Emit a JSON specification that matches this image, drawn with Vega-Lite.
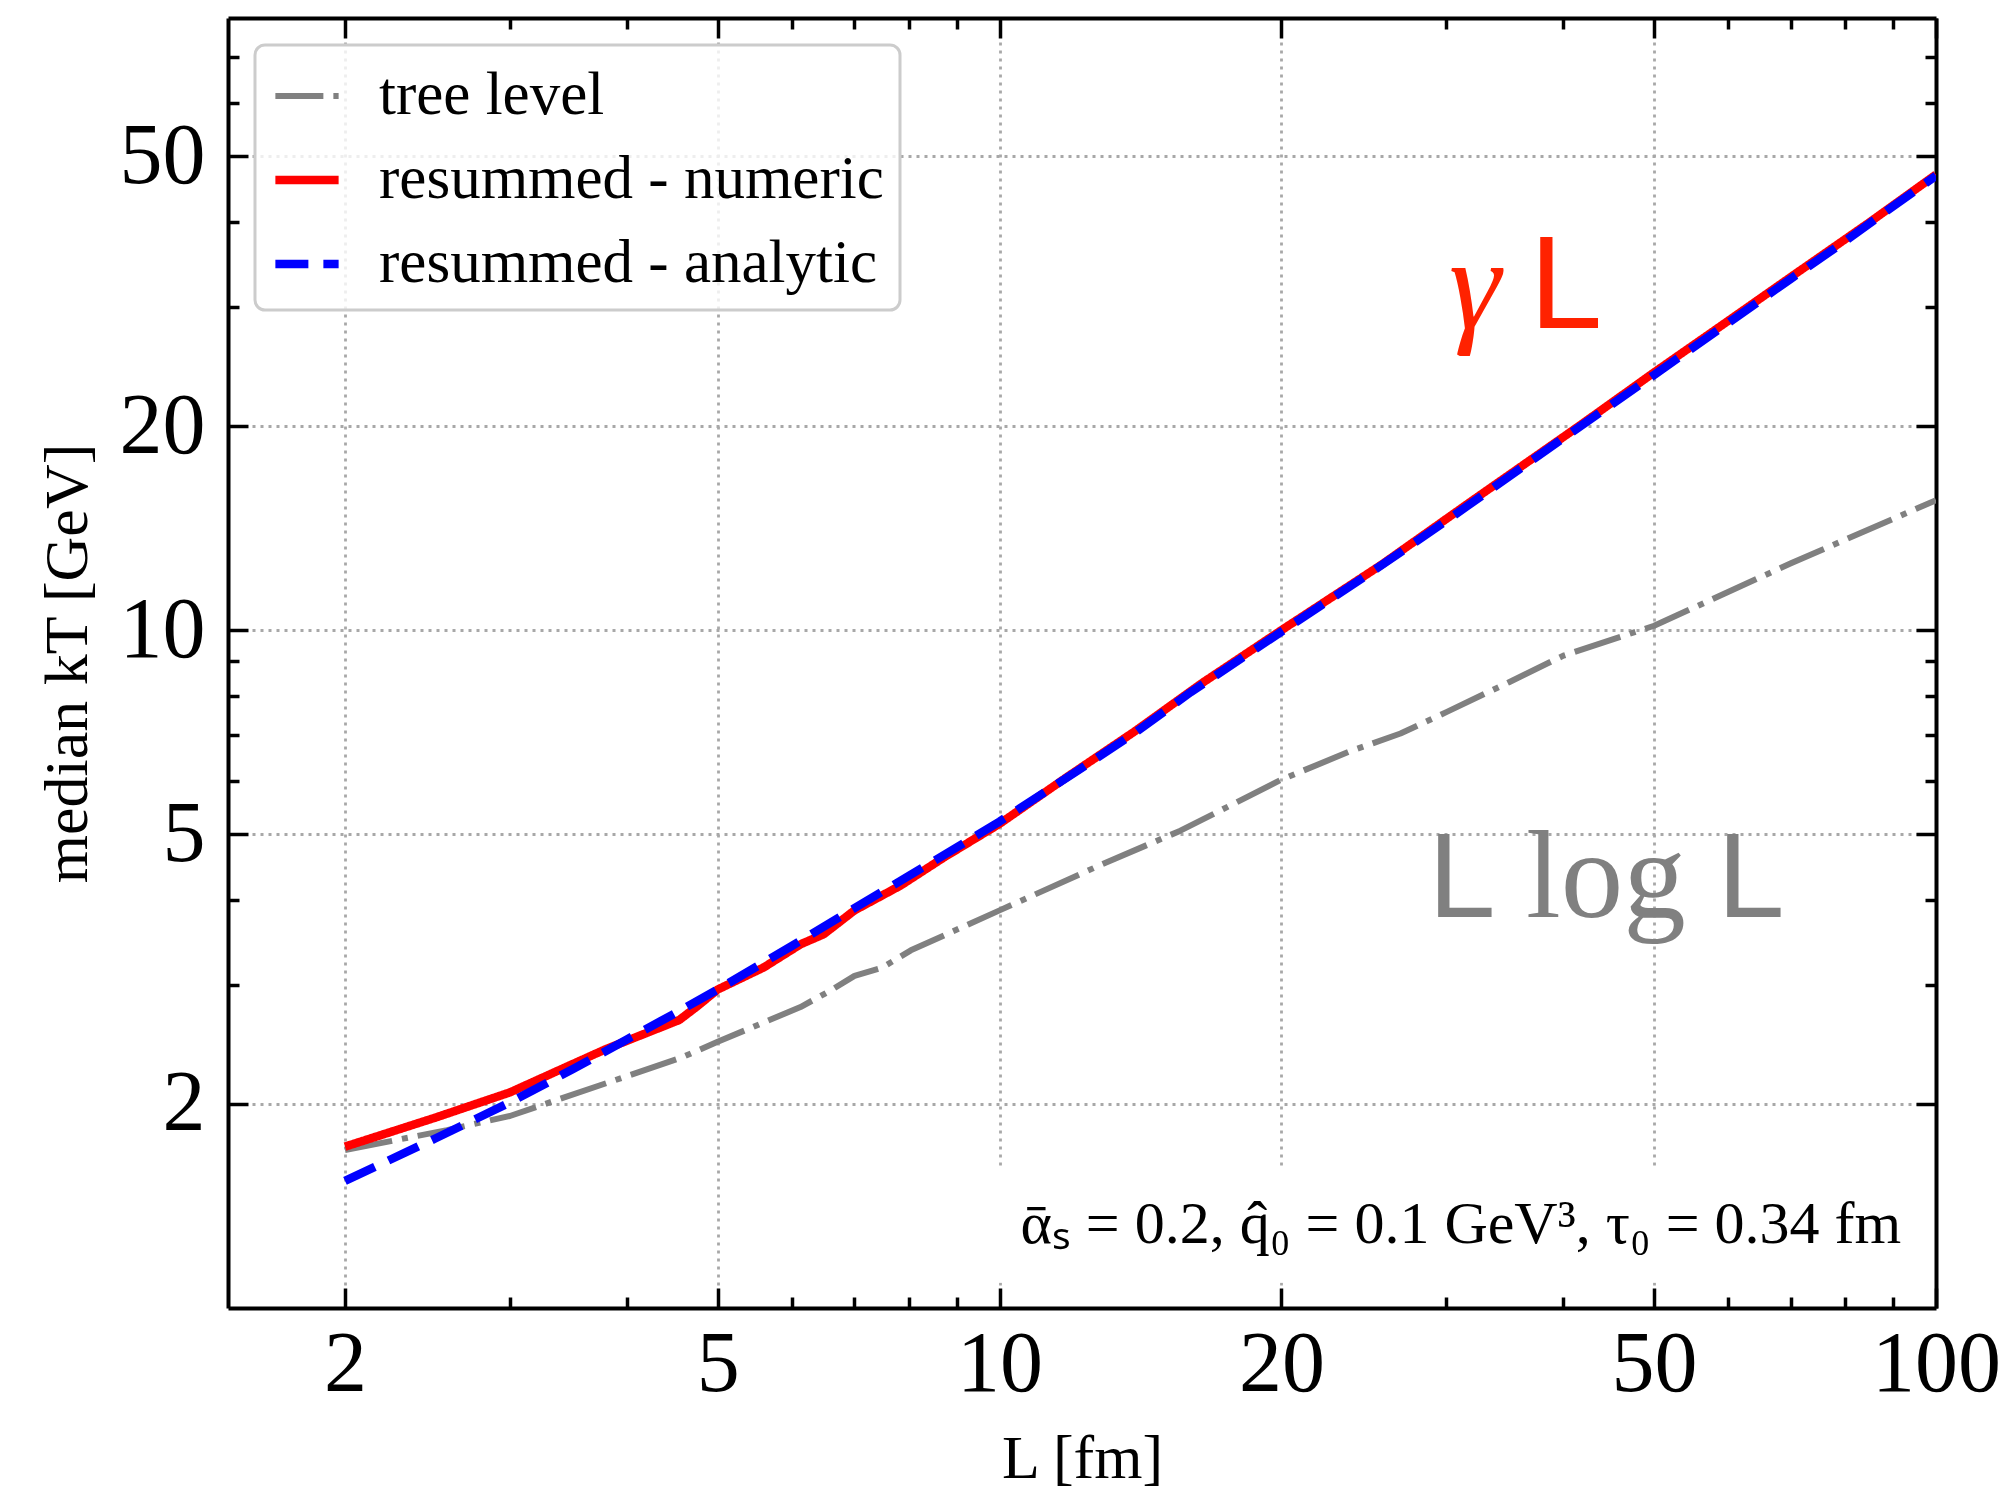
{
  "$schema": "https://vega.github.io/schema/vega-lite/v6.json",
  "width": 1708,
  "height": 1290,
  "autosize": "none",
  "padding": {"left": 228, "top": 18, "right": 73, "bottom": 186},
  "background": "white",
  "config": {
    "view": {"stroke": null},
    "font": "Liberation Serif",
    "legend": {"strokeWidth": 3}
  },
  "resolve": {"axis": {"x": "independent", "y": "independent"}},
  "datasets": {
    "curves": [
      {"L": 2, "kT": 1.71, "series": "tree level"},
      {"L": 2.57, "kT": 1.83, "series": "tree level"},
      {"L": 3, "kT": 1.92, "series": "tree level"},
      {"L": 4.57, "kT": 2.34, "series": "tree level"},
      {"L": 5, "kT": 2.47, "series": "tree level"},
      {"L": 6.13, "kT": 2.78, "series": "tree level"},
      {"L": 6.6, "kT": 2.94, "series": "tree level"},
      {"L": 7.0, "kT": 3.09, "series": "tree level"},
      {"L": 7.5, "kT": 3.18, "series": "tree level"},
      {"L": 8.04, "kT": 3.37, "series": "tree level"},
      {"L": 10, "kT": 3.86, "series": "tree level"},
      {"L": 12.8, "kT": 4.5, "series": "tree level"},
      {"L": 15.6, "kT": 5.06, "series": "tree level"},
      {"L": 20, "kT": 6.02, "series": "tree level"},
      {"L": 23.7, "kT": 6.63, "series": "tree level"},
      {"L": 26.8, "kT": 7.04, "series": "tree level"},
      {"L": 30, "kT": 7.57, "series": "tree level"},
      {"L": 35, "kT": 8.38, "series": "tree level"},
      {"L": 40, "kT": 9.17, "series": "tree level"},
      {"L": 50, "kT": 10.15, "series": "tree level"},
      {"L": 70, "kT": 12.55, "series": "tree level"},
      {"L": 100, "kT": 15.55, "series": "tree level"},
      {"L": 2, "kT": 1.73, "series": "resummed - numeric"},
      {"L": 2.5, "kT": 1.91, "series": "resummed - numeric"},
      {"L": 3, "kT": 2.08, "series": "resummed - numeric"},
      {"L": 3.5, "kT": 2.29, "series": "resummed - numeric"},
      {"L": 3.8, "kT": 2.41, "series": "resummed - numeric"},
      {"L": 4.55, "kT": 2.66, "series": "resummed - numeric"},
      {"L": 4.76, "kT": 2.79, "series": "resummed - numeric"},
      {"L": 5, "kT": 2.95, "series": "resummed - numeric"},
      {"L": 5.6, "kT": 3.18, "series": "resummed - numeric"},
      {"L": 6.13, "kT": 3.44, "series": "resummed - numeric"},
      {"L": 6.49, "kT": 3.56, "series": "resummed - numeric"},
      {"L": 7, "kT": 3.86, "series": "resummed - numeric"},
      {"L": 7.84, "kT": 4.2, "series": "resummed - numeric"},
      {"L": 8.72, "kT": 4.62, "series": "resummed - numeric"},
      {"L": 10, "kT": 5.18, "series": "resummed - numeric"},
      {"L": 11.8, "kT": 6.07, "series": "resummed - numeric"},
      {"L": 13.9, "kT": 7.07, "series": "resummed - numeric"},
      {"L": 16.4, "kT": 8.33, "series": "resummed - numeric"},
      {"L": 20, "kT": 10.0, "series": "resummed - numeric"},
      {"L": 25.6, "kT": 12.5, "series": "resummed - numeric"},
      {"L": 31.7, "kT": 15.4, "series": "resummed - numeric"},
      {"L": 41.5, "kT": 19.97, "series": "resummed - numeric"},
      {"L": 50, "kT": 24.0, "series": "resummed - numeric"},
      {"L": 60, "kT": 28.6, "series": "resummed - numeric"},
      {"L": 70, "kT": 33.2, "series": "resummed - numeric"},
      {"L": 85, "kT": 40.0, "series": "resummed - numeric"},
      {"L": 100, "kT": 47.0, "series": "resummed - numeric"},
      {"L": 2, "kT": 1.54, "series": "resummed - analytic"},
      {"L": 2.5, "kT": 1.78, "series": "resummed - analytic"},
      {"L": 3, "kT": 2.01, "series": "resummed - analytic"},
      {"L": 3.5, "kT": 2.25, "series": "resummed - analytic"},
      {"L": 4, "kT": 2.49, "series": "resummed - analytic"},
      {"L": 4.5, "kT": 2.72, "series": "resummed - analytic"},
      {"L": 5, "kT": 2.95, "series": "resummed - analytic"},
      {"L": 6, "kT": 3.42, "series": "resummed - analytic"},
      {"L": 7, "kT": 3.89, "series": "resummed - analytic"},
      {"L": 8, "kT": 4.34, "series": "resummed - analytic"},
      {"L": 9, "kT": 4.78, "series": "resummed - analytic"},
      {"L": 10, "kT": 5.22, "series": "resummed - analytic"},
      {"L": 12, "kT": 6.15, "series": "resummed - analytic"},
      {"L": 14, "kT": 7.08, "series": "resummed - analytic"},
      {"L": 16, "kT": 8.1, "series": "resummed - analytic"},
      {"L": 20, "kT": 9.95, "series": "resummed - analytic"},
      {"L": 25, "kT": 12.2, "series": "resummed - analytic"},
      {"L": 30, "kT": 14.5, "series": "resummed - analytic"},
      {"L": 40, "kT": 19.2, "series": "resummed - analytic"},
      {"L": 50, "kT": 23.8, "series": "resummed - analytic"},
      {"L": 60, "kT": 28.4, "series": "resummed - analytic"},
      {"L": 70, "kT": 33.0, "series": "resummed - analytic"},
      {"L": 80, "kT": 37.5, "series": "resummed - analytic"},
      {"L": 90, "kT": 42.2, "series": "resummed - analytic"},
      {"L": 100, "kT": 46.8, "series": "resummed - analytic"}
    ]
  },
  "layer": [
    {
      "data": {"name": "curves"},
      "mark": {"type": "line", "strokeCap": "butt", "strokeJoin": "round", "clip": true},
      "encoding": {
        "x": {
          "field": "L", "type": "quantitative",
          "scale": {"type": "log", "domain": [1.5, 100], "nice": false},
          "axis": {
            "orient": "bottom",
            "values": [2, 3, 4, 5, 6, 7, 8, 9, 10, 20, 30, 40, 50, 60, 70, 80, 90, 100],
            "labelExpr": "indexof([2,5,10,20,50,100], datum.value) >= 0 ? format(datum.value, 'd') : ''",
            "tickSize": {"condition": {"test": "indexof([2,5,10,20,50,100], datum.value) >= 0", "value": -20}, "value": -11},
            "tickWidth": 3.5, "tickColor": "black",
            "domainColor": "black", "domainWidth": 4,
            "grid": true, "gridColor": "#a8a8a8", "gridWidth": 2.8, "gridDash": [3, 5],
            "gridOpacity": {"condition": {"test": "indexof([2,5,10,20,50], datum.value) >= 0", "value": 1}, "value": 0},
            "labelFont": "Liberation Serif", "labelFontSize": 86, "labelColor": "black",
            "labelPadding": 34, "labelFlush": false, "labelOverlap": false,
            "title": "L [fm]", "titleFont": "Liberation Serif", "titleFontSize": 62,
            "titleFontWeight": "normal", "titleColor": "black", "titlePadding": 12
          }
        },
        "y": {
          "field": "kT", "type": "quantitative",
          "scale": {"type": "log", "domain": [1, 80], "nice": false},
          "axis": {
            "orient": "left",
            "values": [2, 3, 4, 5, 6, 7, 8, 9, 10, 20, 30, 40, 50, 60, 70],
            "labelExpr": "indexof([2,5,10,20,50], datum.value) >= 0 ? format(datum.value, 'd') : ''",
            "tickSize": {"condition": {"test": "indexof([2,5,10,20,50], datum.value) >= 0", "value": -20}, "value": -11},
            "tickWidth": 3.5, "tickColor": "black",
            "domainColor": "black", "domainWidth": 4,
            "grid": true, "gridColor": "#a8a8a8", "gridWidth": 2.8, "gridDash": [3, 5],
            "gridOpacity": {"condition": {"test": "indexof([2,5,10,20,50], datum.value) >= 0", "value": 1}, "value": 0},
            "labelFont": "Liberation Serif", "labelFontSize": 86, "labelColor": "black",
            "labelPadding": 43, "labelFlush": false, "labelOverlap": false,
            "title": "median kT [GeV]", "titleFont": "Liberation Serif", "titleFontSize": 62,
            "titleFontWeight": "normal", "titleColor": "black", "titlePadding": 20
          }
        },
        "color": {
          "field": "series", "type": "nominal",
          "scale": {"domain": ["tree level", "resummed - numeric", "resummed - analytic"], "range": ["#808080", "#ff0000", "#0000ff"]},
          "legend": {
            "orient": "none", "legendX": 27, "legendY": 27, "title": null,
            "symbolType": "stroke", "symbolSize": 4000,
            "labelFont": "Liberation Serif", "labelFontSize": 61, "labelColor": "black",
            "labelLimit": 0, "labelOffset": 36, "rowPadding": 18, "padding": 16,
            "fillColor": "rgba(255,255,255,0.8)", "strokeColor": "#cccccc", "cornerRadius": 10
          }
        },
        "strokeDash": {
          "field": "series", "type": "nominal",
          "scale": {"type": "ordinal", "domain": ["tree level", "resummed - numeric", "resummed - analytic"], "range": [[48, 10, 6, 10], [1, 0], [33, 15]]}
        },
        "strokeWidth": {
          "field": "series", "type": "nominal",
          "scale": {"type": "ordinal", "domain": ["tree level", "resummed - numeric", "resummed - analytic"], "range": [6, 8.5, 8.5]}
        }
      }
    },
    {
      "data": {"values": [{"L": 9.8, "L2": 96, "kT": 1.6, "kT2": 1.09}]},
      "mark": {"type": "rect", "fill": "white"},
      "encoding": {
        "x": {
          "field": "L", "type": "quantitative",
          "axis": {
            "orient": "top",
            "values": [2, 3, 4, 5, 6, 7, 8, 9, 10, 20, 30, 40, 50, 60, 70, 80, 90, 100],
            "labels": false, "grid": false, "title": null,
            "tickSize": {"condition": {"test": "indexof([2,5,10,20,50,100], datum.value) >= 0", "value": -20}, "value": -11},
            "tickWidth": 3.5, "tickColor": "black",
            "domainColor": "black", "domainWidth": 4
          }
        },
        "x2": {"field": "L2"},
        "y": {
          "field": "kT", "type": "quantitative",
          "axis": {
            "orient": "right",
            "values": [2, 3, 4, 5, 6, 7, 8, 9, 10, 20, 30, 40, 50, 60, 70],
            "labels": false, "grid": false, "title": null,
            "tickSize": {"condition": {"test": "indexof([2,5,10,20,50], datum.value) >= 0", "value": -20}, "value": -11},
            "tickWidth": 3.5, "tickColor": "black",
            "domainColor": "black", "domainWidth": 4
          }
        },
        "y2": {"field": "kT2"}
      }
    },
    {
      "data": {"values": [{"L": 91.8, "kT": 1.245, "text": "ᾱₛ = 0.2, q̂₀ = 0.1 GeV³, τ₀ = 0.34 fm"}]},
      "mark": {"type": "text", "align": "right", "baseline": "alphabetic", "font": "Liberation Serif", "fontSize": 60, "color": "black"},
      "encoding": {
        "x": {"field": "L", "type": "quantitative", "axis": null},
        "y": {"field": "kT", "type": "quantitative", "axis": null},
        "text": {"field": "text"}
      }
    },
    {
      "data": {"values": [{"L": 30.2, "kT": 27.95, "text": "γ"}]},
      "mark": {"type": "text", "align": "left", "baseline": "alphabetic", "font": "Liberation Serif", "fontStyle": "italic", "fontSize": 131, "color": "#ff2200"},
      "encoding": {
        "x": {"field": "L", "type": "quantitative", "axis": null},
        "y": {"field": "kT", "type": "quantitative", "axis": null},
        "text": {"field": "text"}
      }
    },
    {
      "data": {"values": [{"L": 36.8, "kT": 27.95, "text": "L"}]},
      "mark": {"type": "text", "align": "left", "baseline": "alphabetic", "font": "Liberation Sans", "fontSize": 131, "color": "#ff2200"},
      "encoding": {
        "x": {"field": "L", "type": "quantitative", "axis": null},
        "y": {"field": "kT", "type": "quantitative", "axis": null},
        "text": {"field": "text"}
      }
    },
    {
      "data": {"values": [{"L": 28.7, "kT": 3.77, "text": "L"}, {"L": 58.4, "kT": 3.77, "text": "L"}]},
      "mark": {"type": "text", "align": "left", "baseline": "alphabetic", "font": "Liberation Sans", "fontSize": 121, "color": "#808080"},
      "encoding": {
        "x": {"field": "L", "type": "quantitative", "axis": null},
        "y": {"field": "kT", "type": "quantitative", "axis": null},
        "text": {"field": "text"}
      }
    },
    {
      "data": {"values": [{"L": 36.5, "kT": 3.77, "text": "log"}]},
      "mark": {"type": "text", "align": "left", "baseline": "alphabetic", "font": "Liberation Serif", "fontSize": 125, "color": "#808080"},
      "encoding": {
        "x": {"field": "L", "type": "quantitative", "axis": null},
        "y": {"field": "kT", "type": "quantitative", "axis": null},
        "text": {"field": "text"}
      }
    }
  ]
}
